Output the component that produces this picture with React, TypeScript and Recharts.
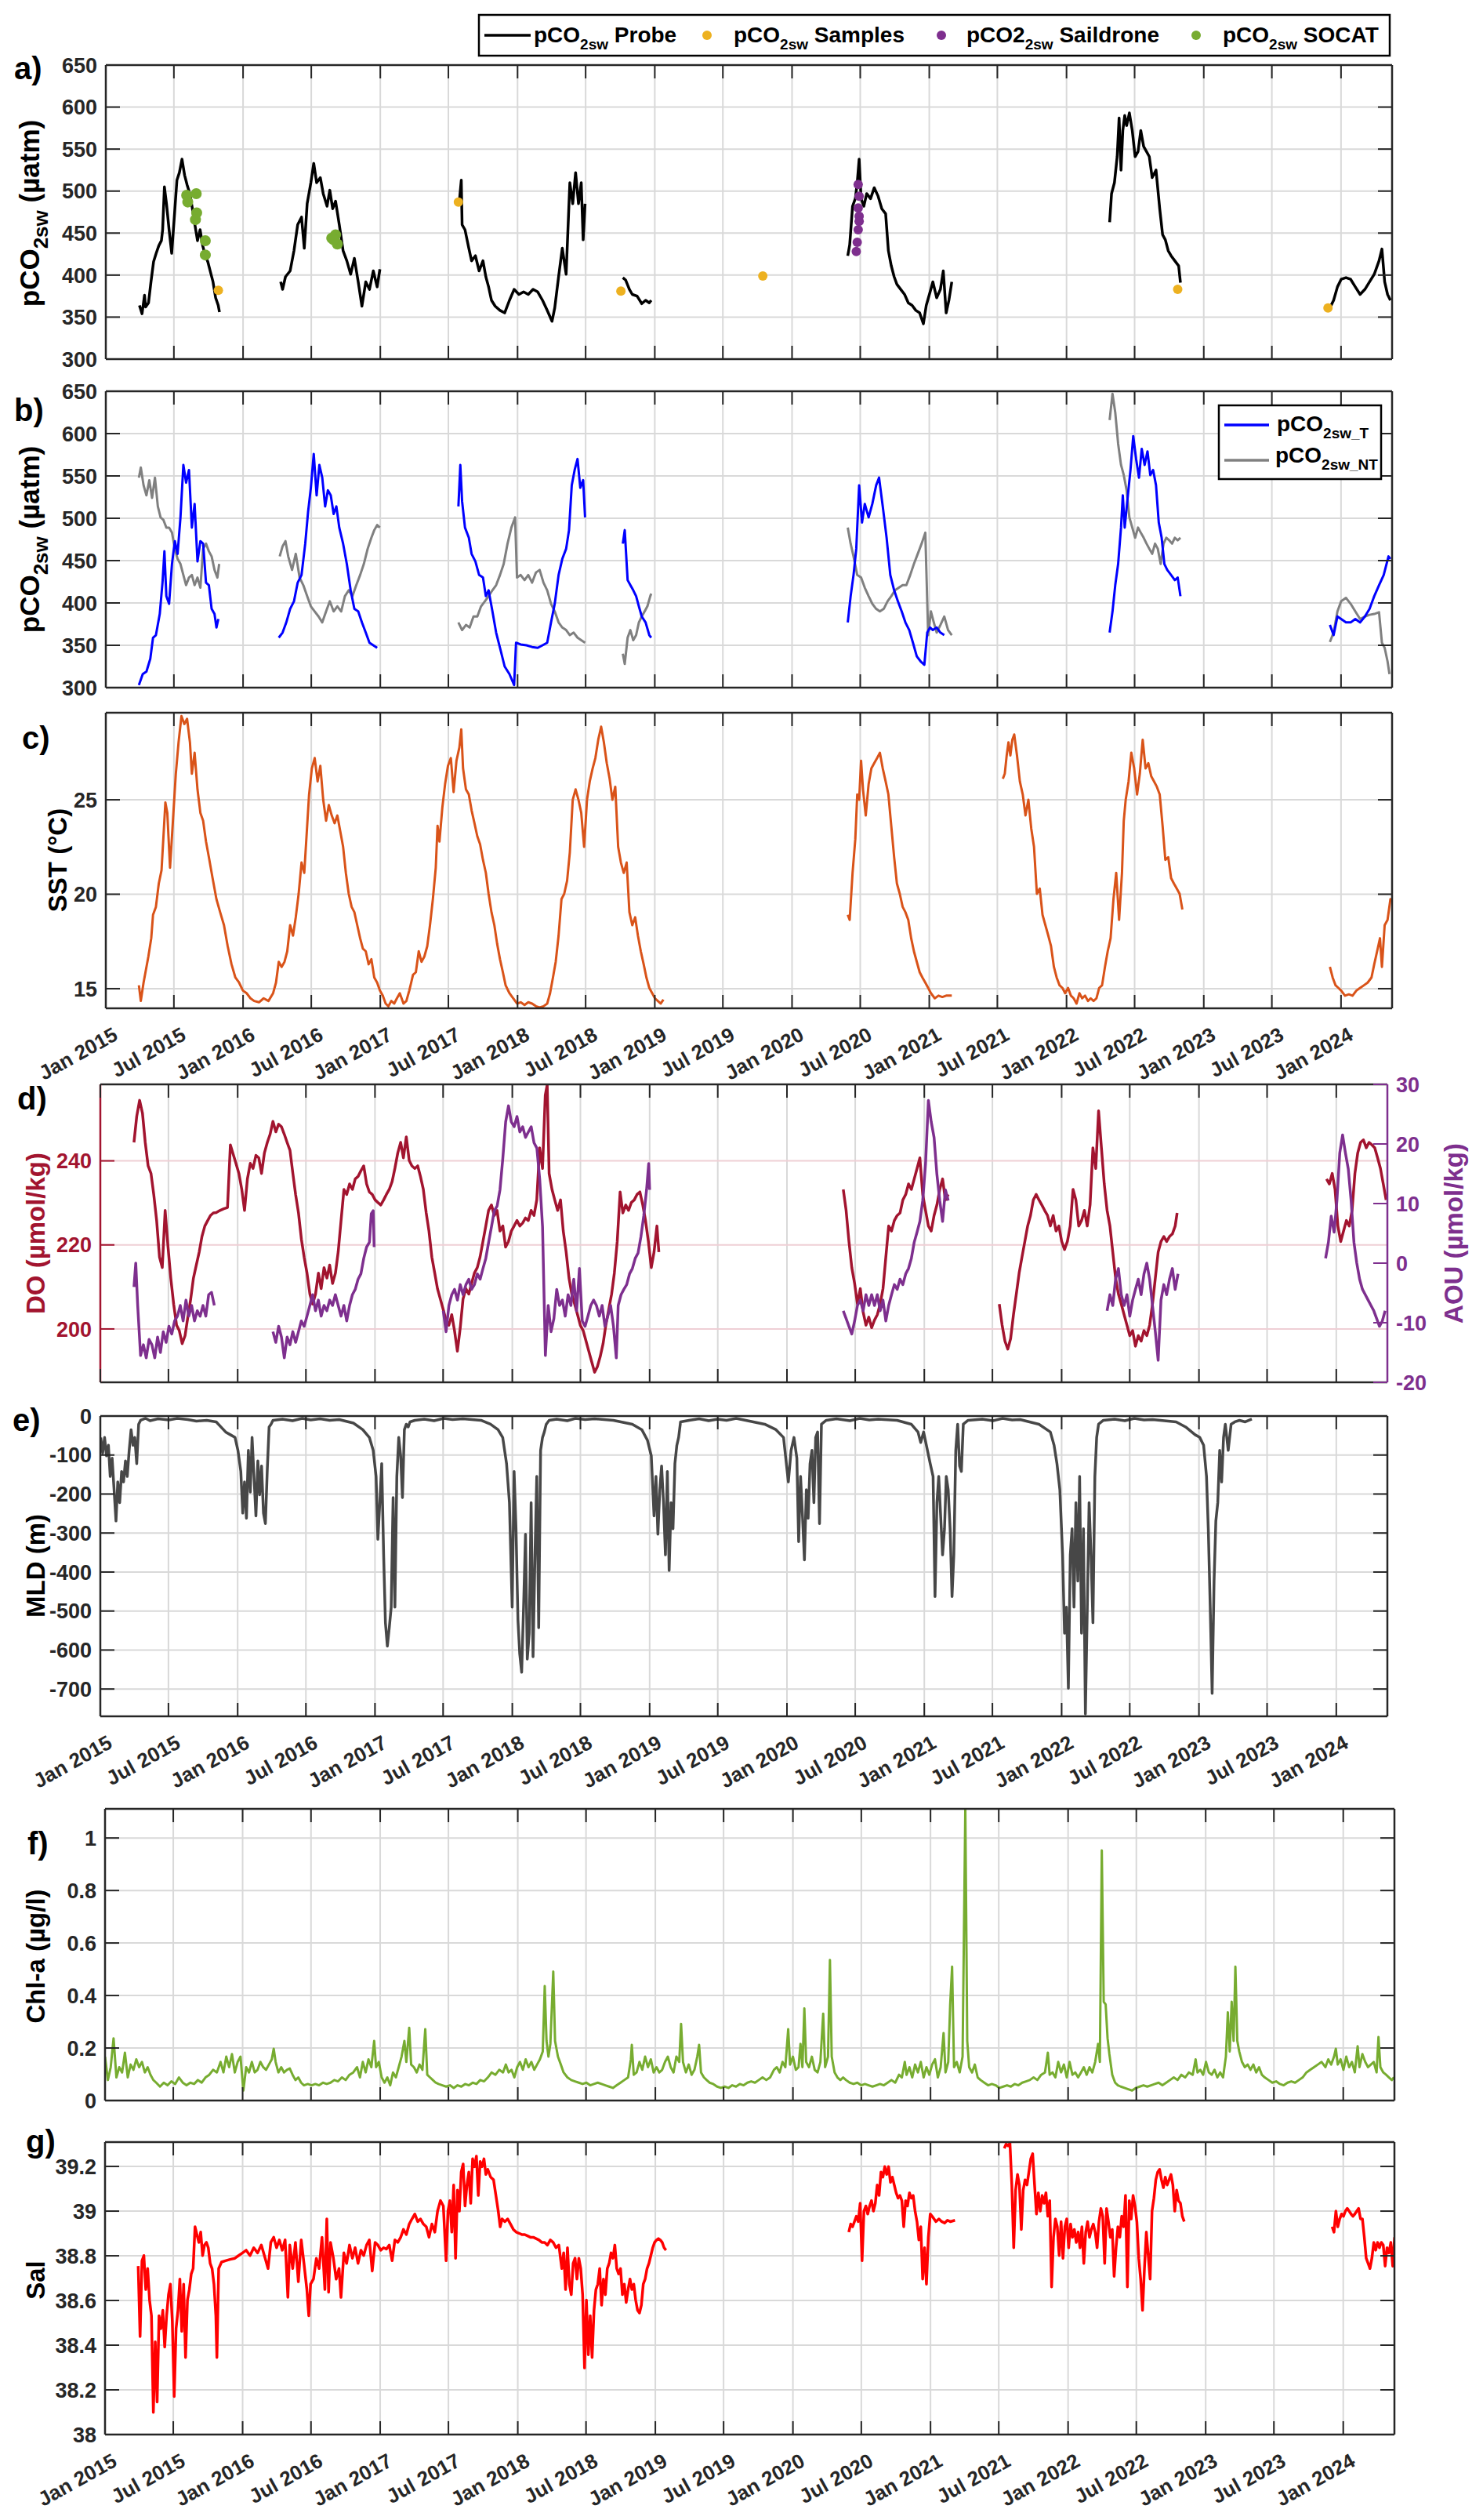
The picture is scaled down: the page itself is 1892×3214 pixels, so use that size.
import React from 'react';
import { ComposedChart, Line, Scatter, XAxis, YAxis, CartesianGrid, ReferenceLine } from 'recharts';

type P = [number, number];
type Pt = { t: number; v: number | null };

// ---------- time axis ----------
const T0 = 2015.0;
const T1 = 2024.372;
const xTicks = [2015, 2015.496, 2016, 2016.497, 2017, 2017.496, 2018, 2018.496, 2019, 2019.496, 2020, 2020.497, 2021, 2021.496, 2022, 2022.496, 2023, 2023.496, 2024];
const xTickLabels = ['Jan 2015', 'Jul 2015', 'Jan 2016', 'Jul 2016', 'Jan 2017', 'Jul 2017', 'Jan 2018', 'Jul 2018', 'Jan 2019', 'Jul 2019', 'Jan 2020', 'Jul 2020', 'Jan 2021', 'Jul 2021', 'Jan 2022', 'Jul 2022', 'Jan 2023', 'Jul 2023', 'Jan 2024'];

// sampling intervals (years) of the regularly sampled stretches
const S2 = 0.01377;
const S3 = 0.02066;
const S4 = 0.02755;
const seq = (t0: number, dt: number, vals: number[]): P[] => vals.map((v, i) => [t0 + i * dt, v] as P);

// ---------- a) pCO2sw probe ----------
const probeSeg1: P[] = [[2015.245,364],[2015.264,354],[2015.282,376],[2015.29,362],[2015.311,367],[2015.329,392],[2015.348,416],[2015.367,426],[2015.386,435],[2015.405,441],[2015.414,454],[2015.427,505],[2015.442,485],[2015.461,454],[2015.48,426],[2015.499,469],[2015.518,513],[2015.536,522],[2015.555,538],[2015.574,519],[2015.593,507],[2015.612,497],[2015.631,479],[2015.649,460],[2015.668,441],[2015.687,454],[2015.706,435],[2015.725,423],[2015.743,416],[2015.762,404],[2015.781,392],[2015.8,373],[2015.819,364],[2015.828,356]];
const probeSeg2: P[] = [[2016.274,392],[2016.288,383],[2016.309,398],[2016.343,405],[2016.371,429],[2016.398,460],[2016.426,469],[2016.446,432],[2016.467,485],[2016.494,510],[2016.515,533],[2016.536,510],[2016.563,516],[2016.584,497],[2016.612,482],[2016.632,501],[2016.653,479],[2016.674,488],[2016.701,460],[2016.729,429],[2016.756,417],[2016.784,401],[2016.811,420],[2016.839,392],[2016.866,363],[2016.894,392],[2016.921,383],[2016.949,405],[2016.977,386],[2016.997,407]];
const probeSeg3: P[] = [[2017.576,488],[2017.59,513],[2017.596,460],[2017.617,454],[2017.645,432],[2017.665,417],[2017.693,423],[2017.72,405],[2017.748,417],[2017.769,398],[2017.789,386],[2017.81,370],[2017.837,363],[2017.872,358],[2017.906,355],[2017.941,370],[2017.975,383],[2018.01,377],[2018.044,380],[2018.078,377],[2018.113,383],[2018.147,380],[2018.182,370],[2018.216,358],[2018.251,345],[2018.271,361],[2018.299,398],[2018.326,432],[2018.354,401],[2018.381,510],[2018.402,485],[2018.423,522],[2018.444,485],[2018.464,510],[2018.478,442],[2018.492,485]];
const probeSeg4: P[] = [[2018.767,397],[2018.788,394],[2018.815,383],[2018.836,377],[2018.871,375],[2018.905,366],[2018.933,370],[2018.96,367],[2018.974,370]];
const probeSeg5: P[] = [[2020.406,423],[2020.42,436],[2020.441,482],[2020.461,491],[2020.475,510],[2020.489,538],[2020.503,491],[2020.523,482],[2020.544,497],[2020.572,491],[2020.599,504],[2020.627,494],[2020.654,479],[2020.682,473],[2020.702,429],[2020.723,411],[2020.744,398],[2020.764,389],[2020.792,383],[2020.82,377],[2020.847,367],[2020.875,364],[2020.902,358],[2020.93,355],[2020.957,342],[2020.978,364],[2021.006,380],[2021.026,392],[2021.054,373],[2021.081,383],[2021.102,405],[2021.123,355],[2021.143,370],[2021.164,392]];
const probeSeg6: P[] = [[2022.314,463],[2022.328,497],[2022.349,510],[2022.369,541],[2022.383,587],[2022.397,525],[2022.41,572],[2022.424,590],[2022.438,578],[2022.458,593],[2022.479,572],[2022.5,541],[2022.521,547],[2022.541,572],[2022.562,553],[2022.583,547],[2022.603,541],[2022.624,516],[2022.652,525],[2022.679,479],[2022.7,448],[2022.72,442],[2022.741,429],[2022.762,423],[2022.789,417],[2022.817,411],[2022.83,391]];
const probeSeg7: P[] = [[2023.919,361],[2023.946,370],[2023.974,386],[2024.001,395],[2024.036,397],[2024.07,395],[2024.104,386],[2024.139,377],[2024.174,383],[2024.208,392],[2024.242,401],[2024.277,417],[2024.298,431],[2024.318,392],[2024.339,377],[2024.36,370]];
const samplesPts: P[] = [[2015.82,382],[2017.569,487],[2018.753,381],[2019.787,399],[2022.81,383],[2023.905,361]];
const saildronePts: P[] = [[2020.482,508],[2020.489,494],[2020.482,480],[2020.489,470],[2020.489,464],[2020.482,454],[2020.475,439],[2020.468,428]];
const socatPts: P[] = [[2015.589,495],[2015.597,487],[2015.659,497],[2015.662,474],[2015.653,466],[2015.725,441],[2015.725,424],[2016.646,444],[2016.674,448],[2016.687,437],[2016.66,442]];

// ---------- b) pCO2sw_T / pCO2sw_NT ----------
const tSeg1: P[] = [[2015.241,303],[2015.269,316],[2015.296,319],[2015.324,334],[2015.344,359],[2015.365,362],[2015.393,387],[2015.413,424],[2015.427,461],[2015.441,408],[2015.461,399],[2015.482,446],[2015.503,473],[2015.523,458],[2015.544,501],[2015.565,563],[2015.585,542],[2015.606,557],[2015.627,489],[2015.647,517],[2015.668,449],[2015.689,473],[2015.709,470],[2015.73,424],[2015.751,421],[2015.771,393],[2015.792,387],[2015.806,371],[2015.82,381]];
const tSeg2: P[] = [[2016.26,359],[2016.288,365],[2016.315,377],[2016.343,393],[2016.371,402],[2016.398,424],[2016.426,433],[2016.453,470],[2016.474,508],[2016.494,536],[2016.515,576],[2016.536,527],[2016.556,563],[2016.577,548],[2016.598,514],[2016.618,533],[2016.639,527],[2016.66,505],[2016.68,514],[2016.701,489],[2016.729,470],[2016.756,446],[2016.784,415],[2016.811,393],[2016.839,390],[2016.866,377],[2016.894,365],[2016.921,353],[2016.949,350],[2016.977,347]];
const tSeg3: P[] = [[2017.569,514],[2017.583,563],[2017.596,520],[2017.617,489],[2017.645,477],[2017.665,458],[2017.693,449],[2017.72,433],[2017.748,430],[2017.769,408],[2017.789,415],[2017.817,390],[2017.844,365],[2017.872,347],[2017.906,325],[2017.941,316],[2017.975,303],[2017.989,353],[2018.023,351],[2018.065,350],[2018.106,348],[2018.147,347],[2018.182,350],[2018.216,353],[2018.244,377],[2018.271,399],[2018.299,433],[2018.326,452],[2018.354,464],[2018.375,486],[2018.395,539],[2018.416,557],[2018.437,570],[2018.457,536],[2018.478,545],[2018.492,501]];
const tSeg4: P[] = [[2018.767,470],[2018.781,486],[2018.802,427],[2018.822,421],[2018.843,415],[2018.864,408],[2018.884,396],[2018.905,384],[2018.933,377],[2018.96,362],[2018.974,359]];
const tSeg5: P[] = [[2020.406,377],[2020.427,408],[2020.448,433],[2020.468,464],[2020.489,539],[2020.51,495],[2020.53,517],[2020.558,501],[2020.585,517],[2020.613,539],[2020.634,548],[2020.661,514],[2020.689,477],[2020.716,433],[2020.744,415],[2020.771,402],[2020.799,390],[2020.826,377],[2020.854,368],[2020.881,353],[2020.909,337],[2020.937,331],[2020.964,327],[2020.985,365],[2021.006,371],[2021.026,368],[2021.054,371],[2021.081,365],[2021.109,362]];
const tSeg6: P[] = [[2022.314,365],[2022.335,390],[2022.355,421],[2022.376,446],[2022.397,489],[2022.41,527],[2022.424,489],[2022.445,524],[2022.466,557],[2022.486,597],[2022.507,570],[2022.528,548],[2022.548,582],[2022.569,563],[2022.59,579],[2022.61,551],[2022.631,557],[2022.652,539],[2022.672,495],[2022.693,477],[2022.713,446],[2022.734,439],[2022.762,433],[2022.789,427],[2022.81,430],[2022.83,408]];
const tSeg7: P[] = [[2023.919,374],[2023.946,362],[2023.974,384],[2024.001,381],[2024.036,377],[2024.07,377],[2024.104,381],[2024.139,377],[2024.174,384],[2024.208,393],[2024.242,408],[2024.277,421],[2024.311,433],[2024.346,455],[2024.36,452]];
const ntSeg1: P[] = [[2015.241,548],[2015.255,560],[2015.275,539],[2015.296,527],[2015.317,545],[2015.337,524],[2015.358,548],[2015.379,514],[2015.399,501],[2015.42,498],[2015.441,489],[2015.461,489],[2015.482,483],[2015.503,464],[2015.523,452],[2015.544,446],[2015.565,433],[2015.585,421],[2015.606,430],[2015.627,433],[2015.647,421],[2015.668,430],[2015.689,418],[2015.709,464],[2015.73,470],[2015.751,461],[2015.771,455],[2015.792,439],[2015.813,430],[2015.826,446]];
const ntSeg2: P[] = [[2016.267,455],[2016.288,467],[2016.309,473],[2016.329,455],[2016.357,439],[2016.384,458],[2016.412,430],[2016.439,421],[2016.467,408],[2016.494,396],[2016.522,390],[2016.55,384],[2016.577,377],[2016.605,390],[2016.632,402],[2016.66,390],[2016.687,396],[2016.715,390],[2016.742,408],[2016.77,415],[2016.797,408],[2016.825,421],[2016.853,433],[2016.88,446],[2016.908,464],[2016.935,477],[2016.956,486],[2016.977,492],[2016.997,489]];
const ntSeg3: P[] = [[2017.569,377],[2017.596,368],[2017.624,374],[2017.651,371],[2017.679,384],[2017.707,384],[2017.734,396],[2017.762,402],[2017.789,408],[2017.817,415],[2017.844,421],[2017.872,433],[2017.899,446],[2017.927,470],[2017.955,489],[2017.982,501],[2017.996,430],[2018.023,433],[2018.051,427],[2018.078,433],[2018.106,424],[2018.134,436],[2018.161,439],[2018.189,424],[2018.216,415],[2018.244,399],[2018.271,390],[2018.299,377],[2018.326,371],[2018.354,368],[2018.381,362],[2018.409,365],[2018.437,359],[2018.464,356],[2018.492,353]];
const ntSeg4: P[] = [[2018.767,340],[2018.781,328],[2018.802,359],[2018.822,368],[2018.843,356],[2018.864,362],[2018.884,377],[2018.905,384],[2018.926,390],[2018.946,396],[2018.967,408],[2018.974,411]];
const ntSeg5: P[] = [[2020.406,489],[2020.427,470],[2020.448,455],[2020.475,433],[2020.503,430],[2020.53,418],[2020.558,408],[2020.585,399],[2020.613,393],[2020.64,390],[2020.668,393],[2020.696,402],[2020.723,408],[2020.751,415],[2020.778,418],[2020.806,421],[2020.833,421],[2020.861,433],[2020.888,446],[2020.916,458],[2020.944,470],[2020.971,483],[2020.992,362],[2021.012,390],[2021.033,377],[2021.054,365],[2021.081,374],[2021.109,384],[2021.137,368],[2021.164,362]];
const ntSeg6: P[] = [[2022.314,616],[2022.335,647],[2022.355,625],[2022.376,588],[2022.397,563],[2022.417,551],[2022.438,533],[2022.458,501],[2022.479,489],[2022.5,477],[2022.521,489],[2022.541,483],[2022.562,477],[2022.583,470],[2022.603,464],[2022.624,458],[2022.645,470],[2022.665,464],[2022.686,446],[2022.707,470],[2022.727,477],[2022.748,474],[2022.769,470],[2022.789,477],[2022.81,474],[2022.83,477]];
const ntSeg7: P[] = [[2023.919,354],[2023.946,365],[2023.974,390],[2024.001,402],[2024.036,406],[2024.07,399],[2024.104,390],[2024.139,381],[2024.174,384],[2024.208,386],[2024.242,387],[2024.277,389],[2024.298,353],[2024.318,347],[2024.339,331],[2024.353,316]];

// ---------- c) SST ----------
const sstSeg1: P[] = [[2015.241,15.18],[2015.255,14.35],[2015.275,15.32],[2015.289,15.87],[2015.31,16.7],[2015.331,17.67],[2015.344,18.91],[2015.365,19.33],[2015.386,20.57],[2015.406,21.27],[2015.42,23.06],[2015.434,24.86],[2015.448,24.31],[2015.468,21.4],[2015.489,23.89],[2015.51,26.38],[2015.53,28.04],[2015.551,29.43],[2015.572,29.01],[2015.592,29.29],[2015.613,28.04],[2015.627,26.38],[2015.647,27.49],[2015.668,25.55],[2015.689,24.31],[2015.709,23.89],[2015.73,22.79],[2015.751,21.96],[2015.778,20.85],[2015.806,19.74],[2015.833,19.05],[2015.861,18.36],[2015.888,17.25],[2015.916,16.29],[2015.944,15.59],[2015.971,15.32],[2015.999,14.9],[2016.026,14.76],[2016.054,14.49],[2016.081,14.35],[2016.116,14.28],[2016.15,14.49],[2016.185,14.35],[2016.219,14.76],[2016.24,15.32],[2016.26,16.42],[2016.281,16.15],[2016.302,16.42],[2016.322,16.98],[2016.343,18.36],[2016.364,17.81],[2016.384,18.78],[2016.405,20.02],[2016.426,21.68],[2016.446,21.13],[2016.467,23.62],[2016.481,25.28],[2016.501,26.66],[2016.522,27.21],[2016.543,25.97],[2016.563,26.8],[2016.584,25.0],[2016.605,23.89],[2016.625,24.72],[2016.646,24.17],[2016.667,23.76],[2016.687,24.17],[2016.708,23.34],[2016.729,22.51],[2016.749,21.13],[2016.77,20.02],[2016.791,19.33],[2016.811,19.05],[2016.832,18.36],[2016.853,17.67],[2016.873,17.12],[2016.894,16.98],[2016.915,16.29],[2016.935,16.56],[2016.956,15.59],[2016.977,15.32],[2016.997,14.9],[2017.018,14.63],[2017.039,14.21],[2017.059,14.07],[2017.08,14.35],[2017.101,14.21],[2017.121,14.49],[2017.142,14.76],[2017.169,14.21],[2017.19,14.35],[2017.211,14.9],[2017.225,15.32],[2017.238,15.73],[2017.259,15.87],[2017.28,16.98],[2017.3,16.42],[2017.321,16.7],[2017.342,17.25],[2017.362,18.36],[2017.383,19.74],[2017.404,21.4],[2017.417,23.62],[2017.431,22.79],[2017.452,24.59],[2017.472,25.83],[2017.493,26.8],[2017.514,27.21],[2017.534,25.41],[2017.555,27.07],[2017.576,27.77],[2017.59,28.73],[2017.603,26.66],[2017.624,25.55],[2017.645,25.28],[2017.665,24.45],[2017.686,23.76],[2017.707,23.06],[2017.727,22.65],[2017.748,21.82],[2017.769,21.13],[2017.789,20.02],[2017.81,19.05],[2017.831,18.36],[2017.851,17.39],[2017.872,16.56],[2017.893,15.87],[2017.913,15.18],[2017.941,14.76],[2017.968,14.49],[2017.996,14.21],[2018.023,14.28],[2018.051,14.14],[2018.078,14.28],[2018.106,14.21],[2018.134,14.07],[2018.161,14.0],[2018.189,14.07],[2018.216,14.21],[2018.237,14.76],[2018.258,15.59],[2018.278,16.42],[2018.299,17.81],[2018.32,19.74],[2018.34,20.02],[2018.361,20.71],[2018.381,22.23],[2018.402,25.0],[2018.423,25.55],[2018.444,25.0],[2018.464,24.31],[2018.485,22.51],[2018.506,25.0],[2018.526,25.97],[2018.547,26.66],[2018.567,27.21],[2018.588,28.18],[2018.609,28.87],[2018.629,28.04],[2018.65,26.94],[2018.671,26.11],[2018.691,25.0],[2018.712,25.69],[2018.733,22.51],[2018.753,21.68],[2018.774,21.13],[2018.795,21.68],[2018.815,19.05],[2018.836,18.36],[2018.857,18.78],[2018.877,17.81],[2018.898,16.98],[2018.919,16.29],[2018.939,15.59],[2018.96,15.04],[2018.981,14.76],[2019.001,14.49],[2019.022,14.35],[2019.043,14.21],[2019.063,14.42]];
const sstSeg2: P[] = [[2020.406,18.91],[2020.42,18.64],[2020.441,21.13],[2020.461,22.92],[2020.475,25.28],[2020.489,25.0],[2020.503,27.07],[2020.517,25.55],[2020.537,24.17],[2020.558,25.83],[2020.578,26.66],[2020.599,26.94],[2020.62,27.21],[2020.64,27.49],[2020.661,26.66],[2020.682,25.97],[2020.702,25.28],[2020.723,23.62],[2020.744,21.96],[2020.764,20.57],[2020.785,20.02],[2020.806,19.33],[2020.826,19.05],[2020.847,18.64],[2020.868,17.67],[2020.888,16.98],[2020.909,16.42],[2020.93,15.87],[2020.95,15.59],[2020.971,15.32],[2020.992,15.04],[2021.012,14.76],[2021.04,14.49],[2021.067,14.63],[2021.095,14.56],[2021.123,14.63],[2021.164,14.63]];
const sstSeg3: P[] = [[2021.536,26.11],[2021.55,26.38],[2021.564,27.35],[2021.577,28.04],[2021.591,27.35],[2021.605,28.18],[2021.619,28.46],[2021.639,27.35],[2021.66,25.97],[2021.681,25.28],[2021.701,24.17],[2021.722,25.0],[2021.743,23.48],[2021.763,22.51],[2021.784,20.02],[2021.805,20.3],[2021.825,18.91],[2021.846,18.36],[2021.867,17.81],[2021.887,17.25],[2021.908,16.15],[2021.928,15.59],[2021.949,15.18],[2021.97,15.04],[2021.99,14.76],[2022.011,15.04],[2022.032,14.63],[2022.052,14.49],[2022.073,14.21],[2022.094,14.76],[2022.114,14.49],[2022.135,14.63],[2022.156,14.35],[2022.176,14.49],[2022.197,14.35],[2022.218,14.49],[2022.238,15.04],[2022.259,15.18],[2022.28,16.15],[2022.3,16.98],[2022.321,17.67],[2022.342,19.74],[2022.362,21.13],[2022.383,18.64],[2022.404,21.13],[2022.417,23.89],[2022.431,25.0],[2022.452,25.97],[2022.472,27.49],[2022.493,26.66],[2022.514,25.28],[2022.534,26.38],[2022.555,28.18],[2022.576,26.66],[2022.596,26.94],[2022.617,26.25],[2022.638,25.97],[2022.658,25.69],[2022.679,25.28],[2022.7,23.62],[2022.72,21.82],[2022.741,21.96],[2022.762,20.85],[2022.782,20.57],[2022.803,20.3],[2022.824,20.02],[2022.844,19.19]];
const sstSeg4: P[] = [[2023.919,16.15],[2023.939,15.59],[2023.96,15.18],[2023.981,15.04],[2024.001,14.9],[2024.029,14.63],[2024.057,14.7],[2024.084,14.63],[2024.112,14.9],[2024.139,15.04],[2024.167,15.18],[2024.194,15.32],[2024.222,15.59],[2024.242,16.29],[2024.263,16.98],[2024.284,17.67],[2024.298,16.15],[2024.318,18.36],[2024.339,18.64],[2024.36,19.74],[2024.369,19.6]];

// ---------- d) DO and AOU ----------
const doSeg1: P[] = [[2015.245,244.4],[2015.265,250.6],[2015.286,254.4],[2015.307,251.3],[2015.327,244.4],[2015.348,238.8],[2015.369,237.0],[2015.389,232.0],[2015.41,225.8],[2015.431,217.1],[2015.451,214.6],[2015.472,228.2],[2015.493,219.5],[2015.513,212.1],[2015.534,205.9],[2015.555,200.9],[2015.575,199.6],[2015.596,196.5],[2015.617,198.4],[2015.637,202.8],[2015.658,207.1],[2015.678,212.1],[2015.699,215.2],[2015.72,218.3],[2015.74,222.0],[2015.761,224.5],[2015.782,225.8],[2015.802,227.0],[2015.823,227.6],[2015.844,227.7],[2015.871,228.2],[2015.899,228.6],[2015.926,228.9],[2015.947,243.8],[2015.982,240.0],[2016.009,237.0],[2016.03,233.2],[2016.05,228.2],[2016.071,235.7],[2016.092,239.4],[2016.112,238.2],[2016.133,241.3],[2016.154,240.7],[2016.174,237.0],[2016.195,241.9],[2016.216,244.4],[2016.236,246.3],[2016.257,249.4],[2016.278,246.9],[2016.298,248.7],[2016.319,248.1],[2016.34,246.3],[2016.36,244.4],[2016.381,242.5],[2016.402,237.0],[2016.422,232.0],[2016.443,227.6],[2016.464,221.4],[2016.484,217.1],[2016.505,213.3],[2016.526,208.3],[2016.546,205.9],[2016.567,208.3],[2016.588,213.3],[2016.608,209.6],[2016.629,214.6],[2016.65,212.1],[2016.67,215.2],[2016.691,210.8],[2016.712,213.3],[2016.732,218.3],[2016.753,225.8],[2016.774,233.2],[2016.794,232.0],[2016.815,234.5],[2016.836,233.2],[2016.856,235.7],[2016.877,236.3],[2016.897,237.6],[2016.918,238.8],[2016.939,234.5],[2016.959,232.6],[2016.98,232.0],[2017.001,230.7],[2017.021,230.1],[2017.042,229.5],[2017.063,230.7],[2017.083,232.0],[2017.104,233.2],[2017.125,235.1],[2017.145,238.2],[2017.166,241.9],[2017.187,244.4],[2017.207,240.7],[2017.228,245.7],[2017.249,240.1],[2017.269,238.8],[2017.29,238.2],[2017.311,238.8],[2017.331,236.3],[2017.352,233.2],[2017.373,227.6],[2017.393,223.3],[2017.414,217.1],[2017.435,213.3],[2017.455,209.6],[2017.476,207.1],[2017.497,204.6],[2017.517,202.1],[2017.538,200.9],[2017.559,203.4],[2017.579,199.6],[2017.6,194.7],[2017.621,200.3],[2017.641,207.1],[2017.662,209.6],[2017.683,208.3],[2017.703,210.8],[2017.724,213.3],[2017.745,214.6],[2017.765,217.1],[2017.786,220.8],[2017.807,224.5],[2017.827,228.2],[2017.848,229.5],[2017.869,227.0],[2017.889,228.2],[2017.91,223.3],[2017.931,224.5],[2017.951,219.5],[2017.972,220.8],[2017.993,223.3],[2018.013,224.5],[2018.034,225.8],[2018.055,224.5],[2018.075,225.2],[2018.096,226.4],[2018.116,225.8],[2018.137,228.2],[2018.158,227.0],[2018.178,230.7],[2018.199,243.1],[2018.22,238.2],[2018.24,255.6],[2018.254,258.1],[2018.268,237.0],[2018.289,233.2],[2018.309,230.7],[2018.33,228.2],[2018.351,230.7],[2018.371,223.3],[2018.392,218.3],[2018.413,212.1],[2018.433,208.3],[2018.454,205.9],[2018.475,203.4],[2018.495,200.9],[2018.516,199.6],[2018.537,197.1],[2018.557,194.7],[2018.578,192.2],[2018.599,189.7],[2018.619,191.0],[2018.64,193.4],[2018.661,196.5],[2018.681,200.9],[2018.702,204.6],[2018.723,208.3],[2018.743,213.3],[2018.764,220.8],[2018.785,232.6],[2018.805,227.6],[2018.826,229.5],[2018.846,228.2],[2018.867,230.1],[2018.888,230.7],[2018.908,232.0],[2018.929,232.6],[2018.95,229.5],[2018.97,225.8],[2018.991,220.8],[2019.012,214.6],[2019.032,218.3],[2019.053,224.5],[2019.067,218.3]];
const doSeg2: P[] = seq(2020.41, S3, [233.2,228.2,220.8,214.6,210.8,205.9,209.6,204.0,200.9,202.8,200.3,202.1,203.4,205.9,209.6,217.1,224.5,223.3,225.8,227.0,227.6,230.7,232.0,234.5,233.2,235.7,238.2,240.7,232.0,228.2,224.5,223.3,227.0,229.5,233.2,235.7,230.7,232.0]);
const doSeg3: P[] = [...seq(2021.546, S3, [205.9,200.9,197.1,195.2,197.7,203.4,208.3,213.3,217.1,220.8,224.5,227.0,230.7,232.0,230.7,229.5,228.2,227.0,224.5,227.0,223.3,224.5,220.8,218.9,220.8,224.5,233.2,230.7,224.5,225.8,228.2,224.5,229.5,243.1,238.2,251.9,243.1,234.5,228.2,224.5,218.3,212.1,208.3,205.9,203.4,200.9,198.4,199.6,195.9,198.4,197.1,199.6,198.4,200.9,205.9,212.1,218.3,220.8,222.0,220.8,222.0,222.6,224.5]), [2022.841,227.6]];
const doSeg4: P[] = seq(2023.929, S3, [235.7,234.5,237.0,233.2,224.5,220.8,223.3,225.8,224.5,228.2,237.0,241.9,244.4,245.0,243.1,244.4,243.8,243.1,240.7,238.2,234.5,230.7]);
const aouSeg1: P[] = [[2015.245,-4.0],[2015.258,0.0],[2015.272,-7.1], ...seq(2015.293, S3, [-15.5,-13.7,-15.9,-12.8,-13.7,-15.9,-12.4,-15.0,-11.5,-13.3,-10.6,-11.9,-9.7,-8.9,-7.1,-9.7,-6.2,-8.9,-7.1,-9.7,-8.0,-8.9,-7.1,-8.9,-5.3,-4.9,-7.1])];
const aouSeg2: P[] = [...seq(2016.257, S3, [-11.5,-13.3,-10.6,-12.4,-15.9,-12.4,-13.7,-11.5,-13.3,-11.5,-9.7,-10.6,-8.9,-7.1,-5.3,-8.0,-6.2,-8.9,-7.1,-8.0,-6.2,-7.1,-5.3,-7.1,-8.9,-7.1,-9.7,-7.1,-5.3,-4.4,-2.7,-1.8,0.8,2.7,3.5]), [2016.973,8.3],[2016.987,8.8],[2016.994,2.7]];
const aouSeg3: P[] = [...seq(2017.497, S3, [-8.0,-11.5,-7.1,-5.3,-4.4,-6.2,-3.6,-5.3,-3.6,-2.7,-4.4,-3.6,-1.8,-2.7,-0.9,0.8,3.5,6.1,8.8,9.6,12.3,17.6,23.7,26.4,23.7,22.9,24.6,22.0,22.9,21.1,22.0,22.9,20.2,19.3,14.1,6.1,-15.5,-7.1,-11.5,-9.3,-4.4,-7.1,-6.2,-8.9,-5.3,-7.1,-2.7,-8.0,-0.9,-9.7,-10.6,-8.9,-7.1,-6.2,-7.1,-8.9,-7.1,-10.6,-8.9,-7.1,-10.6,-15.9]), ...seq(2018.771, S3, [-7.1,-5.3,-4.4,-3.6,-1.8,-0.9,0.8,1.7,4.4,7.9,12.3]), [2018.993,16.7],[2019.0,12.3]];
const aouSeg4: P[] = seq(2020.41, S3, [-8.0,-9.3,-10.6,-11.9,-9.7,-7.1,-6.2,-8.0,-5.3,-7.1,-5.3,-7.1,-5.3,-8.0,-6.2,-9.7,-7.1,-5.3,-3.6,-4.4,-2.7,-3.6,-1.8,-0.9,0.8,3.5,5.2,7.0,10.5,16.7,27.3,23.7,21.1,14.9,10.5,7.0,12.3,10.5]);
const aouSeg5: P[] = seq(2022.331, S3, [-8.0,-5.3,-7.1,-2.7,-0.9,-5.3,-7.1,-5.3,-8.9,-6.2,-4.4,-2.7,-5.3,-1.8,0.0,-2.7,-7.1,-11.5,-16.3,-6.2,-3.6,-5.3,-2.7,-0.9,-4.4,-1.8]);
const aouSeg6: P[] = seq(2023.922, S3, [0.8,3.5,7.9,5.2,10.5,18.5,21.5,18.5,15.8,10.5,3.5,0.0,-2.7,-4.4,-5.3,-6.2,-7.1,-8.0,-9.3,-10.6,-9.7,-8.0]);

// ---------- e) MLD ----------
const mldPts: P[] = [[2015.003,-55],[2015.017,-95],[2015.031,-55],[2015.045,-102],[2015.059,-75],[2015.072,-155],[2015.086,-108],[2015.1,-189],[2015.114,-269],[2015.127,-169],[2015.141,-222],[2015.155,-142],[2015.169,-169],[2015.183,-115],[2015.196,-155],[2015.21,-88],[2015.224,-35],[2015.238,-75],[2015.251,-55],[2015.265,-122],[2015.279,-21],[2015.293,-11],[2015.33,-6],[2015.362,-12],[2015.42,-7],[2015.499,-10],[2015.56,-6],[2015.637,-9],[2015.7,-13],[2015.775,-11],[2015.844,-15],[2015.878,-28],[2015.913,-41],[2015.947,-48],[2015.981,-55],[2016.002,-88],[2016.023,-142],[2016.037,-249],[2016.05,-169],[2016.064,-262],[2016.078,-88],[2016.092,-195],[2016.105,-55],[2016.119,-155],[2016.133,-256],[2016.147,-115],[2016.16,-202],[2016.174,-128],[2016.188,-249],[2016.202,-276],[2016.216,-135],[2016.229,-28],[2016.243,-21],[2016.257,-11],[2016.326,-8],[2016.4,-12],[2016.47,-6],[2016.532,-10],[2016.6,-7],[2016.67,-11],[2016.739,-9],[2016.843,-18],[2016.911,-35],[2016.959,-55],[2016.987,-88],[2017.008,-155],[2017.021,-316],[2017.035,-222],[2017.049,-122],[2017.063,-356],[2017.076,-530],[2017.09,-590],[2017.104,-543],[2017.118,-490],[2017.132,-209],[2017.145,-490],[2017.159,-155],[2017.173,-55],[2017.187,-102],[2017.2,-209],[2017.214,-35],[2017.228,-21],[2017.242,-28],[2017.255,-15],[2017.29,-11],[2017.359,-8],[2017.43,-12],[2017.5,-6],[2017.565,-9],[2017.64,-7],[2017.772,-11],[2017.841,-21],[2017.896,-35],[2017.93,-55],[2017.958,-122],[2017.979,-222],[2017.999,-490],[2018.013,-142],[2018.027,-289],[2018.041,-523],[2018.054,-610],[2018.068,-657],[2018.082,-490],[2018.096,-303],[2018.109,-623],[2018.123,-557],[2018.137,-222],[2018.151,-617],[2018.165,-356],[2018.178,-155],[2018.192,-543],[2018.206,-88],[2018.22,-55],[2018.233,-41],[2018.247,-21],[2018.268,-11],[2018.323,-8],[2018.4,-12],[2018.46,-6],[2018.53,-9],[2018.6,-7],[2018.736,-11],[2018.874,-21],[2018.943,-35],[2018.984,-62],[2019.012,-102],[2019.032,-256],[2019.046,-155],[2019.06,-303],[2019.074,-189],[2019.087,-128],[2019.101,-222],[2019.115,-356],[2019.129,-142],[2019.142,-396],[2019.156,-222],[2019.17,-289],[2019.184,-122],[2019.198,-75],[2019.211,-55],[2019.225,-15],[2019.287,-11],[2019.36,-7],[2019.43,-12],[2019.494,-8],[2019.56,-11],[2019.63,-6],[2019.7,-11],[2019.838,-21],[2019.92,-35],[2019.975,-55],[2020.01,-169],[2020.03,-88],[2020.051,-55],[2020.072,-108],[2020.085,-322],[2020.099,-155],[2020.113,-256],[2020.127,-369],[2020.141,-189],[2020.154,-262],[2020.168,-122],[2020.182,-88],[2020.196,-222],[2020.209,-55],[2020.223,-41],[2020.237,-276],[2020.251,-21],[2020.286,-11],[2020.36,-7],[2020.458,-12],[2020.53,-6],[2020.6,-10],[2020.664,-8],[2020.802,-11],[2020.905,-21],[2020.954,-41],[2020.974,-68],[2020.995,-41],[2021.023,-88],[2021.043,-122],[2021.064,-155],[2021.078,-463],[2021.092,-222],[2021.105,-155],[2021.119,-256],[2021.133,-356],[2021.147,-289],[2021.16,-155],[2021.174,-189],[2021.188,-289],[2021.202,-463],[2021.215,-356],[2021.229,-88],[2021.243,-21],[2021.257,-128],[2021.27,-142],[2021.284,-21],[2021.319,-11],[2021.422,-8],[2021.5,-12],[2021.57,-6],[2021.64,-10],[2021.698,-9],[2021.835,-21],[2021.918,-41],[2021.945,-75],[2021.966,-122],[2021.987,-189],[2022.007,-356],[2022.021,-557],[2022.035,-490],[2022.049,-698],[2022.063,-356],[2022.076,-289],[2022.09,-490],[2022.104,-222],[2022.118,-423],[2022.131,-155],[2022.145,-557],[2022.159,-289],[2022.173,-764],[2022.187,-490],[2022.2,-222],[2022.214,-356],[2022.228,-530],[2022.242,-155],[2022.255,-55],[2022.269,-21],[2022.304,-11],[2022.386,-8],[2022.46,-12],[2022.53,-6],[2022.6,-10],[2022.662,-9],[2022.834,-15],[2022.903,-28],[2022.972,-48],[2023.006,-55],[2023.034,-75],[2023.055,-155],[2023.068,-289],[2023.082,-490],[2023.096,-711],[2023.11,-423],[2023.123,-269],[2023.137,-222],[2023.151,-88],[2023.165,-169],[2023.179,-55],[2023.192,-21],[2023.213,-88],[2023.234,-21],[2023.261,-15],[2023.295,-11],[2023.337,-15],[2023.385,-8]];

// ---------- f) Chl-a ----------
const chlPts: P[] = [
  ...seq(2015.0, S3, [0.167,0.078,0.127,0.237,0.088,0.127,0.107,0.182,0.088,0.137,0.117,0.157,0.127,0.147,0.107,0.127,0.098,0.078]),
  ...seq(2015.372, S4, [0.068,0.053,0.068,0.058,0.073,0.063,0.088,0.068,0.058,0.068,0.063,0.078,0.068,0.088,0.098,0.117,0.107]),
  ...seq(2015.84, S3, [0.147,0.107,0.167,0.127,0.177,0.107,0.147,0.167,0.038,0.127,0.107,0.147,0.107,0.117,0.147,0.127,0.117,0.137,0.157]),
  [2016.226,0.197],[2016.24,0.147],
  ...seq(2016.26, S3, [0.107,0.127,0.107,0.117,0.122,0.098,0.078,0.088,0.068]),
  ...seq(2016.446, S4, [0.058,0.063,0.058,0.063,0.058,0.068,0.063,0.068,0.078,0.073,0.088,0.078,0.098,0.107,0.127]),
  ...seq(2016.853, S3, [0.088,0.147,0.107,0.157,0.127,0.227]),
  [2016.97,0.127],
  ...seq(2016.99, S3, [0.147,0.088,0.068,0.088,0.058,0.107,0.088,0.127,0.167,0.227]),
  [2017.19,0.147],[2017.211,0.277],[2017.225,0.137],
  ...seq(2017.245, S3, [0.127,0.107,0.137,0.117,0.272]),
  [2017.342,0.098],
  ...seq(2017.362, S3, [0.088,0.078,0.068,0.063]),
  ...seq(2017.452, S4, [0.058,0.053,0.058,0.048,0.058,0.053,0.063,0.058,0.068,0.063,0.078,0.073,0.088,0.107,0.098,0.117,0.107]),
  ...seq(2017.913, S3, [0.137,0.107,0.117,0.088,0.127,0.147,0.117,0.157,0.127,0.147,0.117,0.137,0.157,0.187]),
  [2018.196,0.436],[2018.209,0.227],[2018.223,0.167],[2018.237,0.216],[2018.258,0.491],[2018.271,0.227],[2018.292,0.167],[2018.313,0.137],[2018.333,0.107],
  ...seq(2018.361, S4, [0.088,0.078,0.073,0.068,0.063,0.068,0.058,0.063,0.068,0.063,0.058,0.053,0.048,0.058,0.068,0.078,0.088]),
  [2018.822,0.157],[2018.829,0.212],
  ...seq(2018.843, S3, [0.098,0.107,0.147,0.117,0.167,0.127,0.157,0.107,0.127,0.107,0.117,0.147,0.167,0.127,0.107,0.167,0.147]),
  [2019.187,0.292],[2019.201,0.147],
  ...seq(2019.222, S3, [0.107,0.137,0.098,0.117,0.167]),
  [2019.318,0.212],[2019.332,0.107],[2019.353,0.088],[2019.373,0.078],[2019.394,0.068],
  ...seq(2019.421, S4, [0.063,0.053,0.048,0.053,0.048,0.058,0.053,0.063,0.058,0.068,0.073,0.068,0.078,0.088,0.078,0.088]),
  [2019.862,0.117],
  ...seq(2019.883, S3, [0.127,0.107,0.147,0.127,0.272]),
  [2019.979,0.137],[2020.0,0.167],[2020.021,0.117],[2020.041,0.127],[2020.055,0.216],[2020.069,0.127],[2020.083,0.351],[2020.096,0.147],
  ...seq(2020.117, S3, [0.127,0.167,0.117,0.107,0.147]),
  [2020.22,0.331],[2020.234,0.127],[2020.255,0.167],[2020.269,0.535],[2020.282,0.167],
  ...seq(2020.303, S3, [0.107,0.088,0.078,0.088,0.078]),
  ...seq(2020.413, S4, [0.068,0.063,0.068,0.058,0.063,0.058,0.053,0.058,0.063,0.058,0.068,0.078,0.068,0.098]),
  [2020.792,0.088],[2020.813,0.147],
  ...seq(2020.826, S3, [0.098,0.127,0.088,0.137,0.107,0.147,0.088,0.127,0.098,0.137,0.157,0.088,0.127]),
  [2021.095,0.257],[2021.109,0.107],[2021.129,0.147],[2021.143,0.366],[2021.157,0.51],[2021.171,0.127],[2021.191,0.147],[2021.212,0.107],[2021.233,0.167],[2021.253,1.112],[2021.267,0.227],[2021.281,0.127],[2021.302,0.107],[2021.322,0.137],[2021.343,0.088],[2021.364,0.078],
  ...seq(2021.391, S4, [0.068,0.058,0.063,0.058,0.048,0.053,0.058,0.053,0.063,0.058,0.068,0.073,0.078,0.088,0.078,0.098,0.107]),
  [2021.853,0.182],[2021.866,0.098],
  ...seq(2021.887, S3, [0.107,0.088,0.147,0.107,0.137,0.088,0.147,0.098,0.107,0.088,0.107,0.127,0.098,0.127,0.107,0.147]),
  [2022.218,0.216],[2022.231,0.147],[2022.245,0.953],[2022.259,0.376],[2022.273,0.366],[2022.287,0.237],[2022.3,0.177],[2022.321,0.098],[2022.342,0.068],[2022.362,0.058],[2022.383,0.053],
  ...seq(2022.41, S4, [0.048,0.043,0.038,0.048,0.053,0.058,0.053,0.058,0.063,0.068,0.058,0.068,0.078,0.088,0.078,0.098,0.088,0.107,0.098]),
  [2022.927,0.157],[2022.941,0.107],
  ...seq(2022.961, S3, [0.117,0.098,0.147,0.107,0.098,0.117,0.088,0.107,0.088,0.167]),
  [2023.161,0.336],[2023.175,0.187],[2023.189,0.376],[2023.203,0.227],[2023.216,0.51],[2023.23,0.227],[2023.244,0.187],
  ...seq(2023.264, S3, [0.147,0.127,0.137,0.117,0.137,0.107,0.127,0.098,0.088]),
  ...seq(2023.457, S4, [0.078,0.068,0.073,0.063,0.058,0.068,0.073,0.068,0.078,0.088,0.107,0.117,0.127,0.137,0.147,0.127]),
  [2023.891,0.157],[2023.912,0.137],[2023.933,0.167],[2023.946,0.197],
  ...seq(2023.96, S3, [0.137,0.157,0.117,0.167,0.127,0.147,0.107,0.207]),
  [2024.118,0.127],
  ...seq(2024.139, S3, [0.177,0.147,0.127,0.137,0.147,0.107]),
  [2024.256,0.242],[2024.27,0.127],
  ...seq(2024.291, S3, [0.107,0.098,0.088,0.078]),
  [2024.368,0.088],
];

// ---------- g) Salinity ----------
const salSeg1: P[] = [
  ...seq(2015.241, S2, [38.754,38.439,38.778,38.801,38.649,38.743,38.602,38.532,38.099,38.415,38.146,38.532,38.474,38.556,38.392,38.532,38.626,38.673,38.509,38.17,38.474,38.556,38.696,38.462,38.673,38.345,38.602,38.649,38.719,38.743,38.93,38.895,38.86,38.906,38.801,38.848,38.86,38.836,38.766,38.743,38.673,38.532]),
  [2015.813,38.345],[2015.826,38.743],[2015.847,38.772],[2015.875,38.778],[2015.909,38.784],[2015.944,38.789],[2015.971,38.801],[2015.999,38.813],[2016.026,38.825],[2016.054,38.801],[2016.081,38.836],[2016.109,38.813],[2016.136,38.848],[2016.164,38.789],
  [2016.185,38.743],[2016.205,38.86],[2016.226,38.883],[2016.247,38.836],[2016.267,38.871],[2016.288,38.825],[2016.309,38.871],[2016.329,38.614],[2016.343,38.848],[2016.364,38.743],[2016.384,38.86],[2016.405,38.684],[2016.426,38.871],[2016.446,38.766],[2016.467,38.649],[2016.481,38.532],[2016.494,38.673],[2016.515,38.696],[2016.536,38.789],[2016.556,38.743],[2016.577,38.883],[2016.598,38.649],[2016.612,38.965],[2016.625,38.637],[2016.639,38.86],[2016.66,38.789],[2016.68,38.696],[2016.701,38.743],[2016.715,38.614],[2016.736,38.813],[2016.756,38.766],[2016.777,38.848],[2016.798,38.789],[2016.818,38.836],[2016.839,38.766],[2016.86,38.825],[2016.88,38.801],[2016.901,38.848],[2016.921,38.871],[2016.942,38.732],[2016.963,38.86],[2016.983,38.848],[2017.004,38.825],[2017.025,38.836],[2017.045,38.83],[2017.066,38.848],[2017.087,38.778],[2017.107,38.871],[2017.128,38.86],[2017.149,38.883],[2017.169,38.918],[2017.19,38.895],[2017.211,38.942],[2017.231,38.965],[2017.252,38.987],[2017.273,38.953],[2017.293,38.965],[2017.314,38.942],[2017.335,38.93],[2017.355,38.883],[2017.376,38.942],[2017.397,38.906],[2017.417,39.0],[2017.438,39.047],[2017.459,39.023],
  ...seq(2017.479, S2, [38.778,39.0,39.047,38.906,39.117,38.789,39.094,39.0,39.175,39.211,39.023,39.117,39.175,39.035,39.234,39.199,39.246,39.07,39.222,39.199,39.234,39.164,39.187]),
  [2017.803,39.152],[2017.824,39.14],[2017.844,39.058],[2017.858,39.0],[2017.872,38.93],[2017.886,38.965],
  ...seq(2017.906, S3, [38.953,38.965,38.942,38.918,38.906,38.901,38.895,38.895,38.889,38.883,38.883,38.877,38.871,38.86,38.86,38.848,38.871,38.86,38.836,38.848]),
  ...seq(2018.32, S2, [38.743,38.813,38.649,38.836,38.673,38.626,38.766,38.789,38.696,38.789,38.743,38.626,38.298,38.602,38.357,38.532,38.345,38.556,38.649,38.673,38.743,38.579,38.696,38.626,38.743,38.766,38.813,38.789,38.848,38.743,38.719,38.743,38.626,38.673,38.591,38.649,38.696,38.649,38.673,38.602,38.556,38.544,38.579,38.673,38.696,38.743,38.766,38.801,38.836,38.86,38.871,38.877,38.871,38.86,38.836,38.825]),
];
const salSeg2: P[] = [
  ...seq(2020.406, S2, [38.906,38.942,38.93,38.953,38.977,38.953,39.035,38.778,39.0,39.023,38.987,39.023,39.047,39.0,39.035,39.117,39.07,39.175,39.152,39.199,39.164,39.199,39.129,39.152,39.117,39.082,39.058,39.07,39.047,38.93,39.047,39.023,39.082,39.058,39.07,39.0,38.953,38.871,38.93,38.696,38.836,38.673,38.883,38.987,38.977,38.965,38.953]),
  ...seq(2021.061, S3, [38.965,38.953,38.947,38.959,38.953]),
  [2021.178,38.959],
];
const salSeg3: P[] = seq(2021.536, S2, [39.281,39.3,39.292,39.305,39.117,38.836,39.094,39.164,39.117,38.918,39.094,39.14,39.117,39.175,39.234,39.257,39.117,38.987,39.082,39.0,39.07,39.035,39.082,38.977,39.047,38.661,38.883,38.965,38.93,38.801,38.953,38.789,38.93,38.965,38.836,38.942,38.883,38.918,38.86,38.906,38.836,38.93,38.766,38.906,38.953,38.883,38.918,38.942,38.906,38.836,38.953,39.012,38.977,38.766,39.012,38.953,38.883,38.918,38.708,38.836,38.93,38.883,38.977,38.93,39.07,38.661,39.047,38.965,39.07,39.023,38.953,38.789,38.696,38.556,38.743,38.906,38.801,38.696,39.0,39.058,39.14,39.175,39.187,39.14,39.105,39.152,39.117,39.14,39.164,39.117,39.0,39.094,39.047,39.035,38.977,38.953]);
const salSeg4: P[] = seq(2023.919, S2, [38.93,38.906,39.0,38.93,38.965,38.987,38.977,39.0,39.012,39.0,38.987,38.977,38.987,39.0,39.012,38.965,38.965,38.883,38.789,38.766,38.743,38.789,38.86,38.825,38.86,38.836,38.86,38.848,38.754,38.836,38.813,38.86,38.754,38.883]);

// ---------- axis ticks ----------
const pco2Ticks = [300, 350, 400, 450, 500, 550, 600, 650];
const pco2Labels = ['300', '350', '400', '450', '500', '550', '600', '650'];
const sstTicks = [15, 20, 25];
const sstLabels = ['15', '20', '25'];
const doTicks = [200, 220, 240];
const doLabels = ['200', '220', '240'];
const aouTicks = [-20, -10, 0, 10, 20, 30];
const aouLabels = ['-20', '-10', '0', '10', '20', '30'];
const mldTicks = [-700, -600, -500, -400, -300, -200, -100, 0];
const mldLabels = ['-700', '-600', '-500', '-400', '-300', '-200', '-100', '0'];
const chlTicks = [0, 0.2, 0.4, 0.6, 0.8, 1];
const chlLabels = ['0', '0.2', '0.4', '0.6', '0.8', '1'];
const salTicks = [38, 38.2, 38.4, 38.6, 38.8, 39, 39.2];
const salLabels = ['38', '38.2', '38.4', '38.6', '38.8', '39', '39.2'];

// ---------- helpers ----------
const toPts = (segs: P[][]): Pt[] => {
  const out: Pt[] = [];
  segs.forEach((s, i) => {
    if (i > 0) {
      const prev = segs[i - 1];
      out.push({ t: (prev[prev.length - 1][0] + s[0][0]) / 2, v: null });
    }
    s.forEach(([t, v]) => out.push({ t, v }));
  });
  return out;
};
const toDots = (s: P[]): Pt[] => s.map(([t, v]) => ({ t, v }));

const W = 1892;
const H_PAGE = 3214;
const MT = 40;
const MB = 150;
const AX = 1; // axis band thickness (kept minimal so the plot box is exact)
const INK = '#262626';
const FONT = '"Liberation Sans", Arial, Helvetica, sans-serif';
const TICK_FS = 27;
const C_ORANGE = '#EDB120';
const C_PURPLE = '#7E2F8E';
const C_GREEN = '#77AC30';
const C_RED = '#A2142F';

type Series = { data: Pt[]; color: string; width: number };
type Dots = { data: Pt[]; color: string; r: number };
type RightAxis = { domain: [number, number]; ticks: number[]; labels: string[]; color: string; lines: Series[] };
type PanelProps = {
  top: number; bottom: number; left: number; right: number;
  yDomain: [number, number]; yTicks: number[]; yLabels: string[];
  yColor?: string; hGrid?: string; xLabels: boolean;
  lines: Series[]; dots?: Dots[]; rAxis?: RightAxis;
  leftBorder?: string; rightBorder?: string;
};

const findIdx = (arr: number[], v: number) => arr.findIndex((a) => Math.abs(a - v) < 1e-6);

function Panel(p: PanelProps) {
  const plotH = p.bottom - p.top;
  const H = plotH + MT + MB;
  const yTop = MT;
  const yBot = MT + plotH;

  const xTick = (tp: any) => {
    const x = tp.x;
    const i = findIdx(xTicks, tp.payload.value);
    const lx = x + 17;
    const ly = yBot + 39;
    return (
      <g>
        <line x1={x} x2={x} y1={yBot} y2={yBot - 17} stroke={INK} strokeWidth={2} />
        <line x1={x} x2={x} y1={yTop} y2={yTop + 17} stroke={INK} strokeWidth={2} />
        {p.xLabels && i >= 0 ? (
          <text x={lx} y={ly} textAnchor="end" transform={`rotate(-29 ${lx} ${ly})`} fontSize={26} fontWeight="bold" fontFamily={FONT} fill={INK}>
            {xTickLabels[i]}
          </text>
        ) : null}
      </g>
    );
  };

  const yTickL = (tp: any) => {
    const y = tp.y;
    const i = findIdx(p.yTicks, tp.payload.value);
    const col = p.yColor ?? INK;
    return (
      <g>
        <line x1={p.left} x2={p.left + 18} y1={y} y2={y} stroke={col} strokeWidth={2} />
        {p.rAxis ? null : <line x1={p.right - 18} x2={p.right} y1={y} y2={y} stroke={INK} strokeWidth={2} />}
        <text x={p.left - 11} y={y} dy="0.36em" textAnchor="end" fontSize={TICK_FS} fontWeight="bold" fontFamily={FONT} fill={col}>
          {i >= 0 ? p.yLabels[i] : ''}
        </text>
      </g>
    );
  };

  const yTickR = (tp: any) => {
    const y = tp.y;
    const ra = p.rAxis as RightAxis;
    const i = findIdx(ra.ticks, tp.payload.value);
    return (
      <g>
        <line x1={p.right - 18} x2={p.right} y1={y} y2={y} stroke={ra.color} strokeWidth={2} />
        <text x={p.right + 11} y={y} dy="0.36em" textAnchor="start" fontSize={TICK_FS} fontWeight="bold" fontFamily={FONT} fill={ra.color}>
          {i >= 0 ? ra.labels[i] : ''}
        </text>
      </g>
    );
  };

  const mRight = W - p.right - (p.rAxis ? AX : 0);
  return (
    <div style={{ position: 'absolute', left: 0, top: p.top - MT, width: W, height: H }}>
      <ComposedChart width={W} height={H} margin={{ top: MT, right: mRight, bottom: MB - AX, left: p.left - AX }}>
        <CartesianGrid yAxisId="l" horizontal={false} stroke="#d9d9d9" strokeWidth={2} />
        <CartesianGrid yAxisId="l" vertical={false} stroke={p.hGrid ?? '#d9d9d9'} strokeWidth={2} />
        <XAxis dataKey="t" type="number" domain={[T0, T1]} ticks={xTicks} interval={0} allowDataOverflow
          height={AX} tickSize={0} tickMargin={0} axisLine={false} tickLine={false} tick={xTick} />
        <YAxis yAxisId="l" dataKey="v" type="number" domain={p.yDomain} ticks={p.yTicks} interval={0} allowDataOverflow
          width={AX} tickSize={0} tickMargin={0} axisLine={false} tickLine={false} tick={yTickL} />
        {p.rAxis ? (
          <YAxis yAxisId="r" orientation="right" dataKey="v" type="number" domain={p.rAxis.domain} ticks={p.rAxis.ticks} interval={0} allowDataOverflow
            width={AX} tickSize={0} tickMargin={0} axisLine={false} tickLine={false} tick={yTickR} />
        ) : null}
        {p.lines.map((s, i) => (
          <Line key={'l' + i} yAxisId="l" data={s.data} dataKey="v" type="linear" stroke={s.color} strokeWidth={s.width}
            strokeLinejoin="round" dot={false} activeDot={false} connectNulls={false} isAnimationActive={false} />
        ))}
        {p.rAxis
          ? p.rAxis.lines.map((s, i) => (
              <Line key={'r' + i} yAxisId="r" data={s.data} dataKey="v" type="linear" stroke={s.color} strokeWidth={s.width}
                strokeLinejoin="round" dot={false} activeDot={false} connectNulls={false} isAnimationActive={false} />
            ))
          : null}
        {(p.dots ?? []).map((d, i) => (
          <Scatter key={'d' + i} yAxisId="l" data={d.data} dataKey="v" fill={d.color} isAnimationActive={false}
            shape={(sp: any) => <circle cx={sp.cx} cy={sp.cy} r={d.r} fill={d.color} />} />
        ))}
        <ReferenceLine yAxisId="l" y={p.yDomain[1]} stroke={INK} strokeWidth={2.5} />
        <ReferenceLine yAxisId="l" y={p.yDomain[0]} stroke={INK} strokeWidth={2.5} />
        <ReferenceLine yAxisId="l" x={T0} stroke={p.leftBorder ?? INK} strokeWidth={2.5} />
        <ReferenceLine yAxisId="l" x={T1} stroke={p.rightBorder ?? INK} strokeWidth={2.5} />
      </ComposedChart>
    </div>
  );
}

// text with a subscript part
function SubText(props: { x: number; y: number; base: string; sub: string; rest: string; size: number; subSize: number; fill?: string; rotate?: boolean; anchor?: string }) {
  const { x, y, base, sub, rest, size, subSize } = props;
  const shift = Math.round(size * 0.32);
  return (
    <text x={x} y={y} fontSize={size} fontWeight="bold" fontFamily={FONT} fill={props.fill ?? '#000'}
      textAnchor={(props.anchor as any) ?? 'start'} transform={props.rotate ? `rotate(-90 ${x} ${y})` : undefined}>
      {base}
      <tspan dy={shift} fontSize={subSize}>{sub}</tspan>
      <tspan dy={-shift} fontSize={size}>{rest}</tspan>
    </text>
  );
}

function RotLabel(props: { x: number; y: number; text: string; fill?: string }) {
  return (
    <text x={props.x} y={props.y} fontSize={33} fontWeight="bold" fontFamily={FONT} fill={props.fill ?? '#000'}
      textAnchor="middle" transform={`rotate(-90 ${props.x} ${props.y})`}>
      {props.text}
    </text>
  );
}

function Letter(props: { x: number; y: number; t: string }) {
  return (
    <text x={props.x} y={props.y} fontSize={40} fontWeight="bold" fontFamily={FONT} fill="#000">{props.t}</text>
  );
}

export default function App() {
  const probe = toPts([probeSeg1, probeSeg2, probeSeg3, probeSeg4, probeSeg5, probeSeg6, probeSeg7]);
  const pT = toPts([tSeg1, tSeg2, tSeg3, tSeg4, tSeg5, tSeg6, tSeg7]);
  const pNT = toPts([ntSeg1, ntSeg2, ntSeg3, ntSeg4, ntSeg5, ntSeg6, ntSeg7]);
  const sst = toPts([sstSeg1, sstSeg2, sstSeg3, sstSeg4]);
  const dox = toPts([doSeg1, doSeg2, doSeg3, doSeg4]);
  const aou = toPts([aouSeg1, aouSeg2, aouSeg3, aouSeg4, aouSeg5, aouSeg6]);
  const mld = toPts([mldPts]);
  const chl = toPts([chlPts]);
  const sal = toPts([salSeg1, salSeg2, salSeg3, salSeg4]);

  return (
    <div style={{ position: 'absolute', left: 0, top: 0, width: W, height: H_PAGE, background: '#fff', overflow: 'hidden' }}>
      <Panel top={83} bottom={458} left={135} right={1776} yDomain={[300, 650]} yTicks={pco2Ticks} yLabels={pco2Labels} xLabels={false}
        lines={[{ data: probe, color: '#000000', width: 3.5 }]}
        dots={[
          { data: toDots(samplesPts), color: C_ORANGE, r: 6 },
          { data: toDots(saildronePts), color: C_PURPLE, r: 6 },
          { data: toDots(socatPts), color: C_GREEN, r: 7 },
        ]} />
      <Panel top={499} bottom={877} left={135} right={1776} yDomain={[300, 650]} yTicks={pco2Ticks} yLabels={pco2Labels} xLabels={false}
        lines={[{ data: pNT, color: '#808080', width: 3 }, { data: pT, color: '#0000FF', width: 3 }]} />
      <Panel top={909} bottom={1286} left={135} right={1776} yDomain={[13.96, 29.61]} yTicks={sstTicks} yLabels={sstLabels} xLabels={true}
        lines={[{ data: sst, color: '#D95319', width: 3 }]} />
      <Panel top={1383} bottom={1763} left={128} right={1770} yDomain={[187.3, 258.2]} yTicks={doTicks} yLabels={doLabels} xLabels={false}
        yColor={C_RED} hGrid="#efcfd5" leftBorder={C_RED} rightBorder={C_PURPLE}
        lines={[{ data: dox, color: C_RED, width: 3.5 }]}
        rAxis={{ domain: [-20, 30], ticks: aouTicks, labels: aouLabels, color: C_PURPLE, lines: [{ data: aou, color: C_PURPLE, width: 3.5 }] }} />
      <Panel top={1806} bottom={2189} left={128} right={1770} yDomain={[-770, 0]} yTicks={mldTicks} yLabels={mldLabels} xLabels={true}
        lines={[{ data: mld, color: '#474747', width: 3.5 }]} />
      <Panel top={2307} bottom={2679} left={134} right={1779} yDomain={[0, 1.111]} yTicks={chlTicks} yLabels={chlLabels} xLabels={false}
        lines={[{ data: chl, color: C_GREEN, width: 3 }]} />
      <Panel top={2732} bottom={3105} left={134} right={1779} yDomain={[38, 39.309]} yTicks={salTicks} yLabels={salLabels} xLabels={true}
        lines={[{ data: sal, color: '#FF0000', width: 3.5 }]} />

      <svg width={W} height={H_PAGE} style={{ position: 'absolute', left: 0, top: 0, pointerEvents: 'none' }}>
        {/* legend of panel a */}
        <rect x={611} y={19} width={1162} height={52} fill="#fff" stroke="#000" strokeWidth={2.5} />
        <line x1={618} x2={677} y1={45} y2={45} stroke="#000" strokeWidth={3.5} />
        <SubText x={681} y={54} base="pCO" sub="2sw" rest=" Probe" size={28} subSize={19} />
        <circle cx={902} cy={45} r={6} fill={C_ORANGE} />
        <SubText x={936} y={54} base="pCO" sub="2sw" rest=" Samples" size={28} subSize={19} />
        <circle cx={1201} cy={45} r={6} fill={C_PURPLE} />
        <SubText x={1233} y={54} base="pCO2" sub="2sw" rest=" Saildrone" size={28} subSize={19} />
        <circle cx={1526} cy={45} r={6} fill={C_GREEN} />
        <SubText x={1560} y={54} base="pCO" sub="2sw" rest=" SOCAT" size={28} subSize={19} />

        {/* legend of panel b */}
        <rect x={1555} y={517} width={207} height={94} fill="#fff" stroke="#000" strokeWidth={2.5} />
        <line x1={1562} x2={1619} y1={542} y2={542} stroke="#0000FF" strokeWidth={3.5} />
        <SubText x={1629} y={550} base="pCO" sub="2sw_T" rest="" size={28} subSize={19} />
        <line x1={1562} x2={1619} y1={587} y2={587} stroke="#808080" strokeWidth={3.5} />
        <SubText x={1627} y={590} base="pCO" sub="2sw_NT" rest="" size={28} subSize={19} />

        {/* panel letters */}
        <Letter x={18} y={101} t="a)" />
        <Letter x={18} y={537} t="b)" />
        <Letter x={28} y={955} t="c)" />
        <Letter x={22} y={1415} t="d)" />
        <Letter x={16} y={1825} t="e)" />
        <Letter x={35} y={2365} t="f)" />
        <Letter x={33} y={2745} t="g)" />

        {/* y-axis titles */}
        <SubText x={50} y={272} base="pCO" sub="2sw" rest=" (µatm)" size={35} subSize={26} rotate anchor="middle" />
        <SubText x={50} y={688} base="pCO" sub="2sw" rest=" (µatm)" size={35} subSize={26} rotate anchor="middle" />
        <RotLabel x={85} y={1097} text="SST (°C)" />
        <RotLabel x={57} y={1573} text="DO (µmol/kg)" fill={C_RED} />
        <RotLabel x={1866} y={1573} text="AOU (µmol/kg)" fill={C_PURPLE} />
        <RotLabel x={57} y={1997} text="MLD (m)" />
        <RotLabel x={57} y={2495} text="Chl-a (µg/l)" />
        <RotLabel x={57} y={2908} text="Sal" />
      </svg>
    </div>
  );
}
